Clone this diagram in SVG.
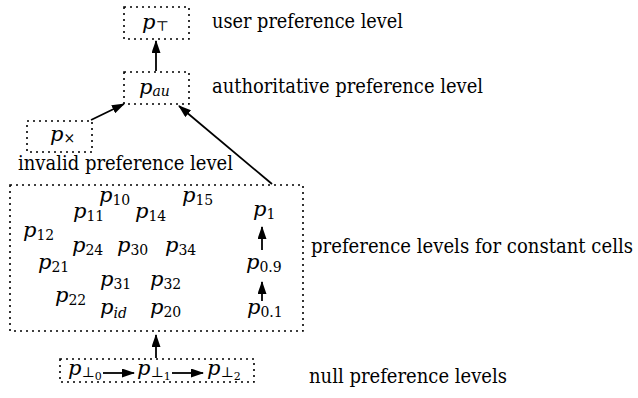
<svg xmlns="http://www.w3.org/2000/svg" width="638" height="398" viewBox="0 0 638 398">
<style>
text{font-family:'DejaVu Serif',serif;font-size:20px;fill:#000}
.m{font-style:italic;font-size:21px}
.s{font-size:14px;font-style:normal}
.si{font-size:14px;font-style:italic}
.box{fill:none;stroke:#000;stroke-width:1.6;stroke-dasharray:2 4}
.c{stroke:#000;stroke-width:1.8;fill:none;marker-end:url(#ah)}
</style>
<defs>
<marker id="ah" viewBox="0 0 13 9" refX="12" refY="4.5" markerWidth="13" markerHeight="9" markerUnits="userSpaceOnUse" orient="auto">
<path d="M0,0 L13,4.5 L0,9 z" fill="#000"/>
</marker>
</defs>
<rect width="638" height="398" fill="#fff"/>
<g id="top"><rect class="box" x="124" y="7" width="65" height="32"/>
<text x="142" y="29"><tspan class="m">p</tspan><tspan class="s" dy="2">⊤</tspan></text></g>
<g id="au"><rect class="box" x="124" y="72" width="65" height="32"/>
<text x="139" y="94"><tspan class="m">p</tspan><tspan class="si" dy="2">au</tspan></text></g>
<g id="inv"><rect class="box" x="27" y="121" width="65" height="31"/>
<text x="50" y="141"><tspan class="m">p</tspan><tspan class="s" dy="2">×</tspan></text></g>
<g id="const"><rect class="box" x="10" y="185" width="293" height="146"/>
<text x="99" y="202"><tspan class="m">p</tspan><tspan class="s" dy="3">10</tspan></text>
<text x="182" y="202"><tspan class="m">p</tspan><tspan class="s" dy="3">15</tspan></text>
<text x="73" y="218"><tspan class="m">p</tspan><tspan class="s" dy="3">11</tspan></text>
<text x="135" y="218"><tspan class="m">p</tspan><tspan class="s" dy="3">14</tspan></text>
<text x="253" y="216"><tspan class="m">p</tspan><tspan class="s" dy="3">1</tspan></text>
<text x="23" y="237"><tspan class="m">p</tspan><tspan class="s" dy="3">12</tspan></text>
<text x="72" y="252"><tspan class="m">p</tspan><tspan class="s" dy="3">24</tspan></text>
<text x="117" y="252"><tspan class="m">p</tspan><tspan class="s" dy="3">30</tspan></text>
<text x="165" y="252"><tspan class="m">p</tspan><tspan class="s" dy="3">34</tspan></text>
<text x="38" y="269"><tspan class="m">p</tspan><tspan class="s" dy="3">21</tspan></text>
<text x="246" y="269"><tspan class="m">p</tspan><tspan class="s" dy="3">0.9</tspan></text>
<text x="100" y="286"><tspan class="m">p</tspan><tspan class="s" dy="3">31</tspan></text>
<text x="150" y="286"><tspan class="m">p</tspan><tspan class="s" dy="3">32</tspan></text>
<text x="55" y="302"><tspan class="m">p</tspan><tspan class="s" dy="3">22</tspan></text>
<text x="100" y="314"><tspan class="m">p</tspan><tspan class="si" dy="4">id</tspan></text>
<text x="150" y="314"><tspan class="m">p</tspan><tspan class="s" dy="3">20</tspan></text>
<text x="247" y="314"><tspan class="m">p</tspan><tspan class="s" dy="3">0.1</tspan></text>
</g>
<g id="null"><rect class="box" x="60" y="359" width="194" height="23"/>
<text x="68" y="375"><tspan class="m">p</tspan><tspan class="s" dy="2">⊥</tspan><tspan font-size="11" dy="3">0</tspan></text>
<text x="137" y="375"><tspan class="m">p</tspan><tspan class="s" dy="2">⊥</tspan><tspan font-size="11" dy="3">1</tspan></text>
<text x="207" y="375"><tspan class="m">p</tspan><tspan class="s" dy="2">⊥</tspan><tspan font-size="11" dy="3">2</tspan></text>
</g>
<g id="labels">
<text x="212" y="28" textLength="191" lengthAdjust="spacingAndGlyphs">user preference level</text>
<text x="212" y="93" textLength="271" lengthAdjust="spacingAndGlyphs">authoritative preference level</text>
<text x="18" y="170" textLength="215" lengthAdjust="spacingAndGlyphs">invalid preference level</text>
<text x="311" y="253" textLength="322" lengthAdjust="spacingAndGlyphs">preference levels for constant cells</text>
<text x="309" y="383" textLength="198" lengthAdjust="spacingAndGlyphs">null preference levels</text>
</g>
<g id="connectors">
<line class="c" x1="156" y1="71" x2="156" y2="41"/>
<line class="c" x1="91" y1="120" x2="124" y2="104"/>
<line class="c" x1="272" y1="184" x2="179" y2="106"/>
<line class="c" x1="262" y1="250" x2="262" y2="227"/>
<line class="c" x1="262" y1="301" x2="262" y2="282"/>
<line class="c" x1="156" y1="358" x2="156" y2="335"/>
<line class="c" x1="103" y1="373" x2="134" y2="373"/>
<line class="c" x1="172" y1="373" x2="203" y2="373"/>
</g>
</svg>
